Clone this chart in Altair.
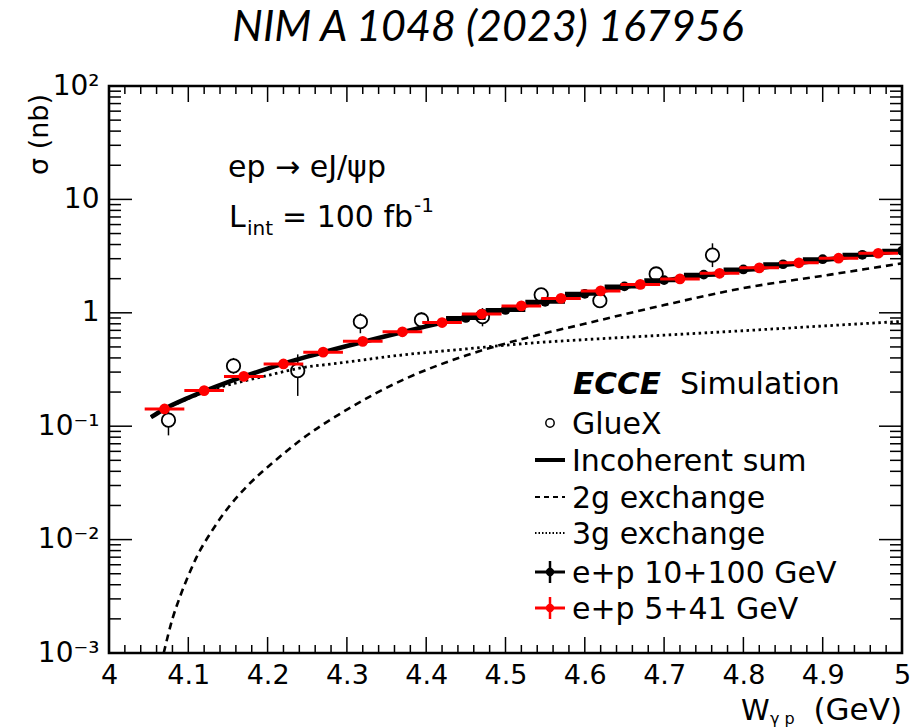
import altair as alt
import pandas as pd

# ---------------- data ----------------
# e+p 5+41 GeV (red)
red_w = [4.07, 4.12, 4.17, 4.22, 4.27, 4.32, 4.37, 4.42, 4.47, 4.52,
         4.57, 4.62, 4.67, 4.72, 4.77, 4.82, 4.87, 4.92, 4.97]
red_s = [0.142, 0.206, 0.275, 0.354, 0.450, 0.560, 0.680, 0.820, 0.975, 1.15,
         1.34, 1.56, 1.78, 1.99, 2.23, 2.49, 2.76, 3.03, 3.35]
red_half = 0.025

# e+p 10+100 GeV (black)
blk_w = [4.45, 4.50, 4.55, 4.60, 4.65, 4.70, 4.75, 4.80, 4.85, 4.90, 4.95, 5.00]
blk_s = [0.90, 1.06, 1.25, 1.47, 1.71, 1.94, 2.17, 2.41, 2.68, 2.97, 3.25, 3.52]
blk_half = 0.025

# GlueX
glue_w = [4.075, 4.157, 4.238, 4.317, 4.394, 4.471, 4.545, 4.619, 4.690, 4.761]
glue_s = [0.113, 0.340, 0.309, 0.835, 0.865, 0.925, 1.44, 1.28, 2.20, 3.23]
glue_lo = [0.083, 0.29, 0.185, 0.66, 0.73, 0.76, 1.25, 1.10, 1.95, 2.53]
glue_hi = [0.14, 0.40, 0.43, 0.99, 1.01, 1.10, 1.65, 1.46, 2.48, 4.10]

# Incoherent sum
sum_w = [4.053, 4.07, 4.10, 4.15, 4.20, 4.25, 4.30, 4.35, 4.40, 4.45, 4.50,
         4.55, 4.60, 4.65, 4.70, 4.75, 4.80, 4.85, 4.90, 4.95, 5.00]
sum_s = [0.120, 0.142, 0.178, 0.245, 0.322, 0.410, 0.510, 0.625, 0.760, 0.910, 1.07,
         1.26, 1.47, 1.69, 1.93, 2.14, 2.38, 2.64, 2.92, 3.22, 3.52]

# 2g exchange
g2_w = [4.069, 4.08, 4.09, 4.10, 4.11, 4.13, 4.15, 4.175, 4.21, 4.24, 4.30,
        4.37, 4.45, 4.53, 4.60, 4.70, 4.80, 4.90, 5.00]
g2_s = [0.001, 0.0020, 0.0032, 0.0048, 0.0069, 0.0120, 0.0190, 0.030, 0.050, 0.074, 0.14,
        0.255, 0.42, 0.61, 0.80, 1.17, 1.65, 2.12, 2.73]

# 3g exchange
g3_w = [4.053, 4.07, 4.10, 4.13, 4.17, 4.20, 4.24, 4.29, 4.37, 4.45,
        4.53, 4.60, 4.70, 4.80, 4.90, 5.00]
g3_s = [0.120, 0.141, 0.175, 0.210, 0.250, 0.280, 0.325, 0.360, 0.425, 0.480,
        0.540, 0.580, 0.635, 0.695, 0.765, 0.840]

# axis ticks
x_major = [4.0, 4.1, 4.2, 4.3, 4.4, 4.5, 4.6, 4.7, 4.8, 4.9, 5.0]
x_minor = [round(4.0 + 0.02 * i, 2) for i in range(51) if i % 5 != 0]
y_major = [0.001, 0.01, 0.1, 1.0, 10.0, 100.0]
y_minor = [k * d for d in [0.001, 0.01, 0.1, 1.0, 10.0] for k in range(2, 10)]

TITLE = "NIM A 1048 (2023) 167956"

# ---------------- layout ----------------
W, H = 793, 567
FONT = "DejaVu Sans"

xs = alt.Scale(domain=[4, 5], nice=False, zero=False)
ys = alt.Scale(type="log", domain=[0.001, 100], nice=False)

one = alt.Data(values=[{}])


def txt(t, x, y, size=30, align="left", baseline="alphabetic", font=FONT, **kw):
    return alt.Chart(one).mark_text(text=t, fontSize=size, align=align, baseline=baseline,
                                    font=font, color="black", **kw).encode(
        x=alt.value(x), y=alt.value(y))


def hrule(x1, x2, y, **kw):
    return alt.Chart(one).mark_rule(color=kw.pop("color", "black"), **kw).encode(
        x=alt.value(x1), x2=alt.value(x2), y=alt.value(y))


def vrule(x, y1, y2, **kw):
    return alt.Chart(one).mark_rule(color=kw.pop("color", "black"), **kw).encode(
        x=alt.value(x), y=alt.value(y1), y2=alt.value(y2))


def sym(x, y, **kw):
    return alt.Chart(one).mark_point(shape="circle", **kw).encode(
        x=alt.value(x), y=alt.value(y))


xaxis = alt.Axis(values=x_major, title=None, grid=False, ticks=False, domain=False,
                 labelFont=FONT, labelFontSize=27, labelColor="black", labelPadding=9,
                 labelFlush=False, labelOverlap=False,
                 labelExpr="datum.value % 1 == 0 ? format(datum.value, 'd') : format(datum.value, '.1f')")
yaxis = alt.Axis(values=y_major, title=None, grid=False, ticks=False, domain=False,
                 labelFont=FONT, labelFontSize=28, labelColor="black", labelPadding=10,
                 labelFlush=False, labelOverlap=False,
                 labelExpr=("datum.value > 50 ? '10\u00b2' : datum.value > 5 ? '10' : "
                            "datum.value > 0.5 ? '1' : datum.value > 0.05 ? '10\u207b\u00b9' : "
                            "datum.value > 0.005 ? '10\u207b\u00b2' : '10\u207b\u00b3'"))

glue_df = pd.DataFrame({"w": glue_w, "s": glue_s, "lo": glue_lo, "hi": glue_hi})
sum_df = pd.DataFrame({"w": sum_w, "s": sum_s})
g2_df = pd.DataFrame({"w": g2_w, "s": g2_s})
g3_df = pd.DataFrame({"w": g3_w, "s": g3_s})
red_df = pd.DataFrame({"w": red_w, "s": red_s})
red_df["lo"] = red_df["w"] - red_half
red_df["hi"] = red_df["w"] + red_half
blk_df = pd.DataFrame({"w": blk_w, "s": blk_s})
blk_df["lo"] = blk_df["w"] - blk_half
blk_df["hi"] = blk_df["w"] + blk_half

X = lambda f: alt.X(f, type="quantitative", scale=xs, axis=xaxis)
Y = lambda f: alt.Y(f, type="quantitative", scale=ys, axis=yaxis)

glue_err = alt.Chart(glue_df).mark_rule(color="black", strokeWidth=1.5).encode(
    x=X("w"), y=Y("lo"), y2="hi")
glue_pts = alt.Chart(glue_df).mark_point(shape="circle", size=180, fill="white", fillOpacity=1,
                                         stroke="black", strokeWidth=1.8, opacity=1).encode(
    x=X("w"), y=Y("s"))

g3_line = alt.Chart(g3_df).mark_line(color="black", strokeWidth=2.8, strokeDash=[2.5, 3.5],
                                     interpolate="monotone", clip=True).encode(x=X("w"), y=Y("s"))
g2_line = alt.Chart(g2_df).mark_line(color="black", strokeWidth=2.6, strokeDash=[7, 5],
                                     interpolate="monotone", clip=True).encode(x=X("w"), y=Y("s"))
sum_line = alt.Chart(sum_df).mark_line(color="black", strokeWidth=4.5, interpolate="monotone",
                                       clip=True).encode(x=X("w"), y=Y("s"))

blk_bar = alt.Chart(blk_df).mark_rule(color="black", strokeWidth=4, clip=True).encode(
    x=X("lo"), x2="hi", y=Y("s"))
blk_pts = alt.Chart(blk_df).mark_circle(color="black", size=95, opacity=1, clip=True).encode(
    x=X("w"), y=Y("s"))
red_bar = alt.Chart(red_df).mark_rule(color="#ff0000", strokeWidth=3, clip=True).encode(
    x=X("lo"), x2="hi", y=Y("s"))
red_pts = alt.Chart(red_df).mark_circle(color="#ff0000", size=115, opacity=1, clip=True).encode(
    x=X("w"), y=Y("s"))


# inward ticks (ROOT style) on all four sides
def xticks(vals, L):
    d = pd.DataFrame({"t": vals})
    b = alt.Chart(d).mark_rule(color="black", strokeWidth=1.5).encode(
        x=X("t"), y=alt.value(H), y2=alt.value(H - L))
    t = alt.Chart(d).mark_rule(color="black", strokeWidth=1.5).encode(
        x=X("t"), y=alt.value(0), y2=alt.value(L))
    return [b, t]


def yticks(vals, L):
    d = pd.DataFrame({"t": vals})
    l = alt.Chart(d).mark_rule(color="black", strokeWidth=1.5).encode(
        y=Y("t"), x=alt.value(0), x2=alt.value(L))
    r = alt.Chart(d).mark_rule(color="black", strokeWidth=1.5).encode(
        y=Y("t"), x=alt.value(W), x2=alt.value(W - L))
    return [l, r]


ticks = (xticks(x_major[1:-1], 16) + xticks(x_minor, 8)
         + yticks(y_major[1:-1], 23) + yticks(y_minor, 12))

# annotations
annot = [
    txt(TITLE, 379, -58, size=43, align="center", baseline="middle", font="Lato", fontStyle="italic"),
    txt("\u03c3 (nb)", -69, 8, size=27, align="right", baseline="middle", angle=270),
    txt("W", 632, 634, size=29),
    txt("\u03b3 p", 661, 638, size=16),
    txt("(GeV)", 793, 634, size=31, align="right"),
    txt("ep \u2192 eJ/\u03c8p", 119, 91, size=30),
    txt("L", 120, 141, size=30),
    txt("int", 138, 149, size=20),
    txt("= 100 fb", 173, 141, size=30),
    txt("-1", 305, 126, size=20),
]

# legend
LX, LT = 441, 463
rows = [337, 374, 411, 447, 486, 522]
legend = [
    txt("ECCE", 464, 308, size=31, fontStyle="italic", fontWeight="bold"),
    txt("Simulation", 571, 308, size=30),
    sym(LX, rows[0], size=70, fill="white", fillOpacity=1, stroke="black", strokeWidth=1.5, opacity=1),
    txt("GlueX", LT, rows[0] + 11, size=30),
    hrule(426, 456, rows[1], strokeWidth=4),
    txt("Incoherent sum", LT, rows[1] + 11, size=30),
    hrule(426, 456, rows[2], strokeWidth=2, strokeDash=[5, 4]),
    txt("2g exchange", LT, rows[2] + 11, size=30),
    hrule(426, 456, rows[3], strokeWidth=2, strokeDash=[1.5, 2]),
    txt("3g exchange", LT, rows[3] + 11, size=30),
    hrule(426, 456, rows[4], strokeWidth=3),
    vrule(LX, rows[4] - 11, rows[4] + 11, strokeWidth=2.5),
    sym(LX, rows[4], size=70, filled=True, color="black", opacity=1),
    txt("e+p 10+100 GeV", LT, rows[4] + 11, size=30),
    hrule(426, 456, rows[5], strokeWidth=3, color="#ff0000"),
    vrule(LX, rows[5] - 11, rows[5] + 11, strokeWidth=2.5, color="#ff0000"),
    sym(LX, rows[5], size=70, filled=True, color="#ff0000", opacity=1),
    txt("e+p 5+41 GeV", LT, rows[5] + 11, size=30),
]

chart = alt.layer(
    glue_err, glue_pts, g3_line, g2_line, sum_line,
    blk_bar, blk_pts, red_bar, red_pts,
    *ticks, *annot, *legend
).properties(
    width=W, height=H,
    padding={"left": 109, "top": 86, "right": 11, "bottom": 75},
    autosize=alt.AutoSizeParams(type="none"),
    background="white",
).configure_view(stroke="black", strokeWidth=2.6)

chart.save("out.html", embed_options={"renderer": "svg", "actions": False})
